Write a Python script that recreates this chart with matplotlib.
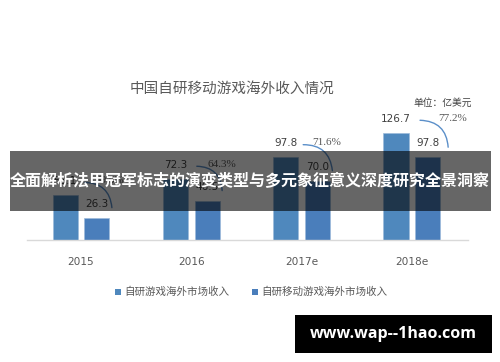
import matplotlib
matplotlib.use("Agg")
import matplotlib.pyplot as plt
from matplotlib.patches import Rectangle

plt.rcParams['font.family'] = ['Noto Sans CJK SC', 'DejaVu Sans']

categories = ["2015", "2016", "2017e", "2018e"]
total_rev = [53.1, 72.3, 97.8, 126.7]
mobile_rev = [26.3, 46.5, 70.0, 97.8]
ratio = ["49.5%", "64.3%", "71.6%", "77.2%"]
series_names = ["自研游戏海外市场收入", "自研移动游戏海外市场收入"]
title = "中国自研移动游戏海外收入情况"
unit = "单位：亿美元"
banner = "全面解析法甲冠军标志的演变类型与多元象征意义深度研究全景洞察"
watermark = "www.wap--1hao.com"

W, H = 500, 362
fig = plt.figure(figsize=(W / 100, H / 100), dpi=100)
fig.patch.set_facecolor("white")

def fx(px):
    return px / W

def fy(py):
    return 1 - py / H

ax = fig.add_axes([fx(27), fy(240), fx(468) - fx(27), 126.75 / H])
ax.set_xlim(-0.49, 3.51)
ax.set_ylim(0, 150)

c1 = "#4f88bd"
c2 = "#4a7ebb"
bw = 0.227
off = 0.143
x = list(range(len(categories)))
ax.bar([i - off for i in x], total_rev, width=bw, color=c1, edgecolor="#9dbbdb", linewidth=0.5, zorder=2)
ax.bar([i + off for i in x], mobile_rev, width=bw, color=c2, edgecolor="#9dbbdb", linewidth=0.5, zorder=2)

lbl_col = "#404040"
for i in x:
    ax.annotate(f"{total_rev[i]:.1f}", (i - off, total_rev[i]), xytext=(0, 10),
                textcoords="offset points", ha="center", va="center",
                fontsize=7.5, color=lbl_col, family="DejaVu Sans")
    ax.annotate(f"{mobile_rev[i]:.1f}", (i + off, mobile_rev[i]), xytext=(0, 10),
                textcoords="offset points", ha="center", va="center",
                fontsize=7.5, color=lbl_col, family="DejaVu Sans")

pct_dx = [0.26, 0.28, 0.23, 0.37]
arc_sx = [0.03, 0.05, 0.015, 0.075]
for i in x:
    ax.annotate("", xy=(i + 0.28 + (0.05 if i == 3 else 0), mobile_rev[i] + 12),
                xytext=(i + arc_sx[i], total_rev[i] + 15),
                arrowprops=dict(arrowstyle="-", connectionstyle="arc3,rad=-0.45",
                                color="#5b8fc9", lw=1, shrinkA=0, shrinkB=0), zorder=3)
    ax.text(i + pct_dx[i], total_rev[i] + 17, ratio[i], ha="center", va="center",
            fontsize=8, color="#595959", family="Liberation Serif", zorder=4)

ax.set_xticks(x)
ax.set_xticklabels(categories, fontsize=7.6, color="#595959", family="DejaVu Sans")
ax.tick_params(axis="x", length=0, pad=12)
ax.set_yticks([])
for s in ["top", "right", "left"]:
    ax.spines[s].set_visible(False)
ax.spines["bottom"].set_color("#d9d9d9")
ax.spines["bottom"].set_linewidth(1)

fig.text(fx(232), fy(89), title, ha="center", va="center", fontsize=10.5,
         color="#595959", fontweight="medium")
fig.text(fx(443), fy(103), unit, ha="center", va="center", fontsize=7, color="#404040")

# legend
leg_y = fy(292)
for sx, name, col in [(118, series_names[0], c1), (255, series_names[1], c2)]:
    fig.patches.append(Rectangle((fx(sx - 3), leg_y - 3 / H), 6 / W, 6 / H,
                                 transform=fig.transFigure, facecolor=col,
                                 linewidth=0, figure=fig))
    fig.text(fx(sx + 6), leg_y, name, ha="left", va="center", fontsize=7.6, color="#595959")

# banner overlay
fig.patches.append(Rectangle((fx(10), fy(211)), fx(491) - fx(10), 60 / H,
                             transform=fig.transFigure, facecolor="black", alpha=0.6,
                             linewidth=0, figure=fig, zorder=10))
fig.text(fx(250), fy(181), banner, ha="center", va="center", fontsize=11.5,
         color="white", fontweight="bold", zorder=11)

# watermark
fig.patches.append(Rectangle((fx(295), fy(353)), fx(492) - fx(295), 38 / H,
                             transform=fig.transFigure, facecolor="black",
                             linewidth=0, figure=fig, zorder=10))
fig.text(fx(393), fy(334), watermark, ha="center", va="center", fontsize=11.5,
         color="white", fontweight="bold", family="Open Sans", zorder=11)

fig.savefig("out.png", dpi=100)
